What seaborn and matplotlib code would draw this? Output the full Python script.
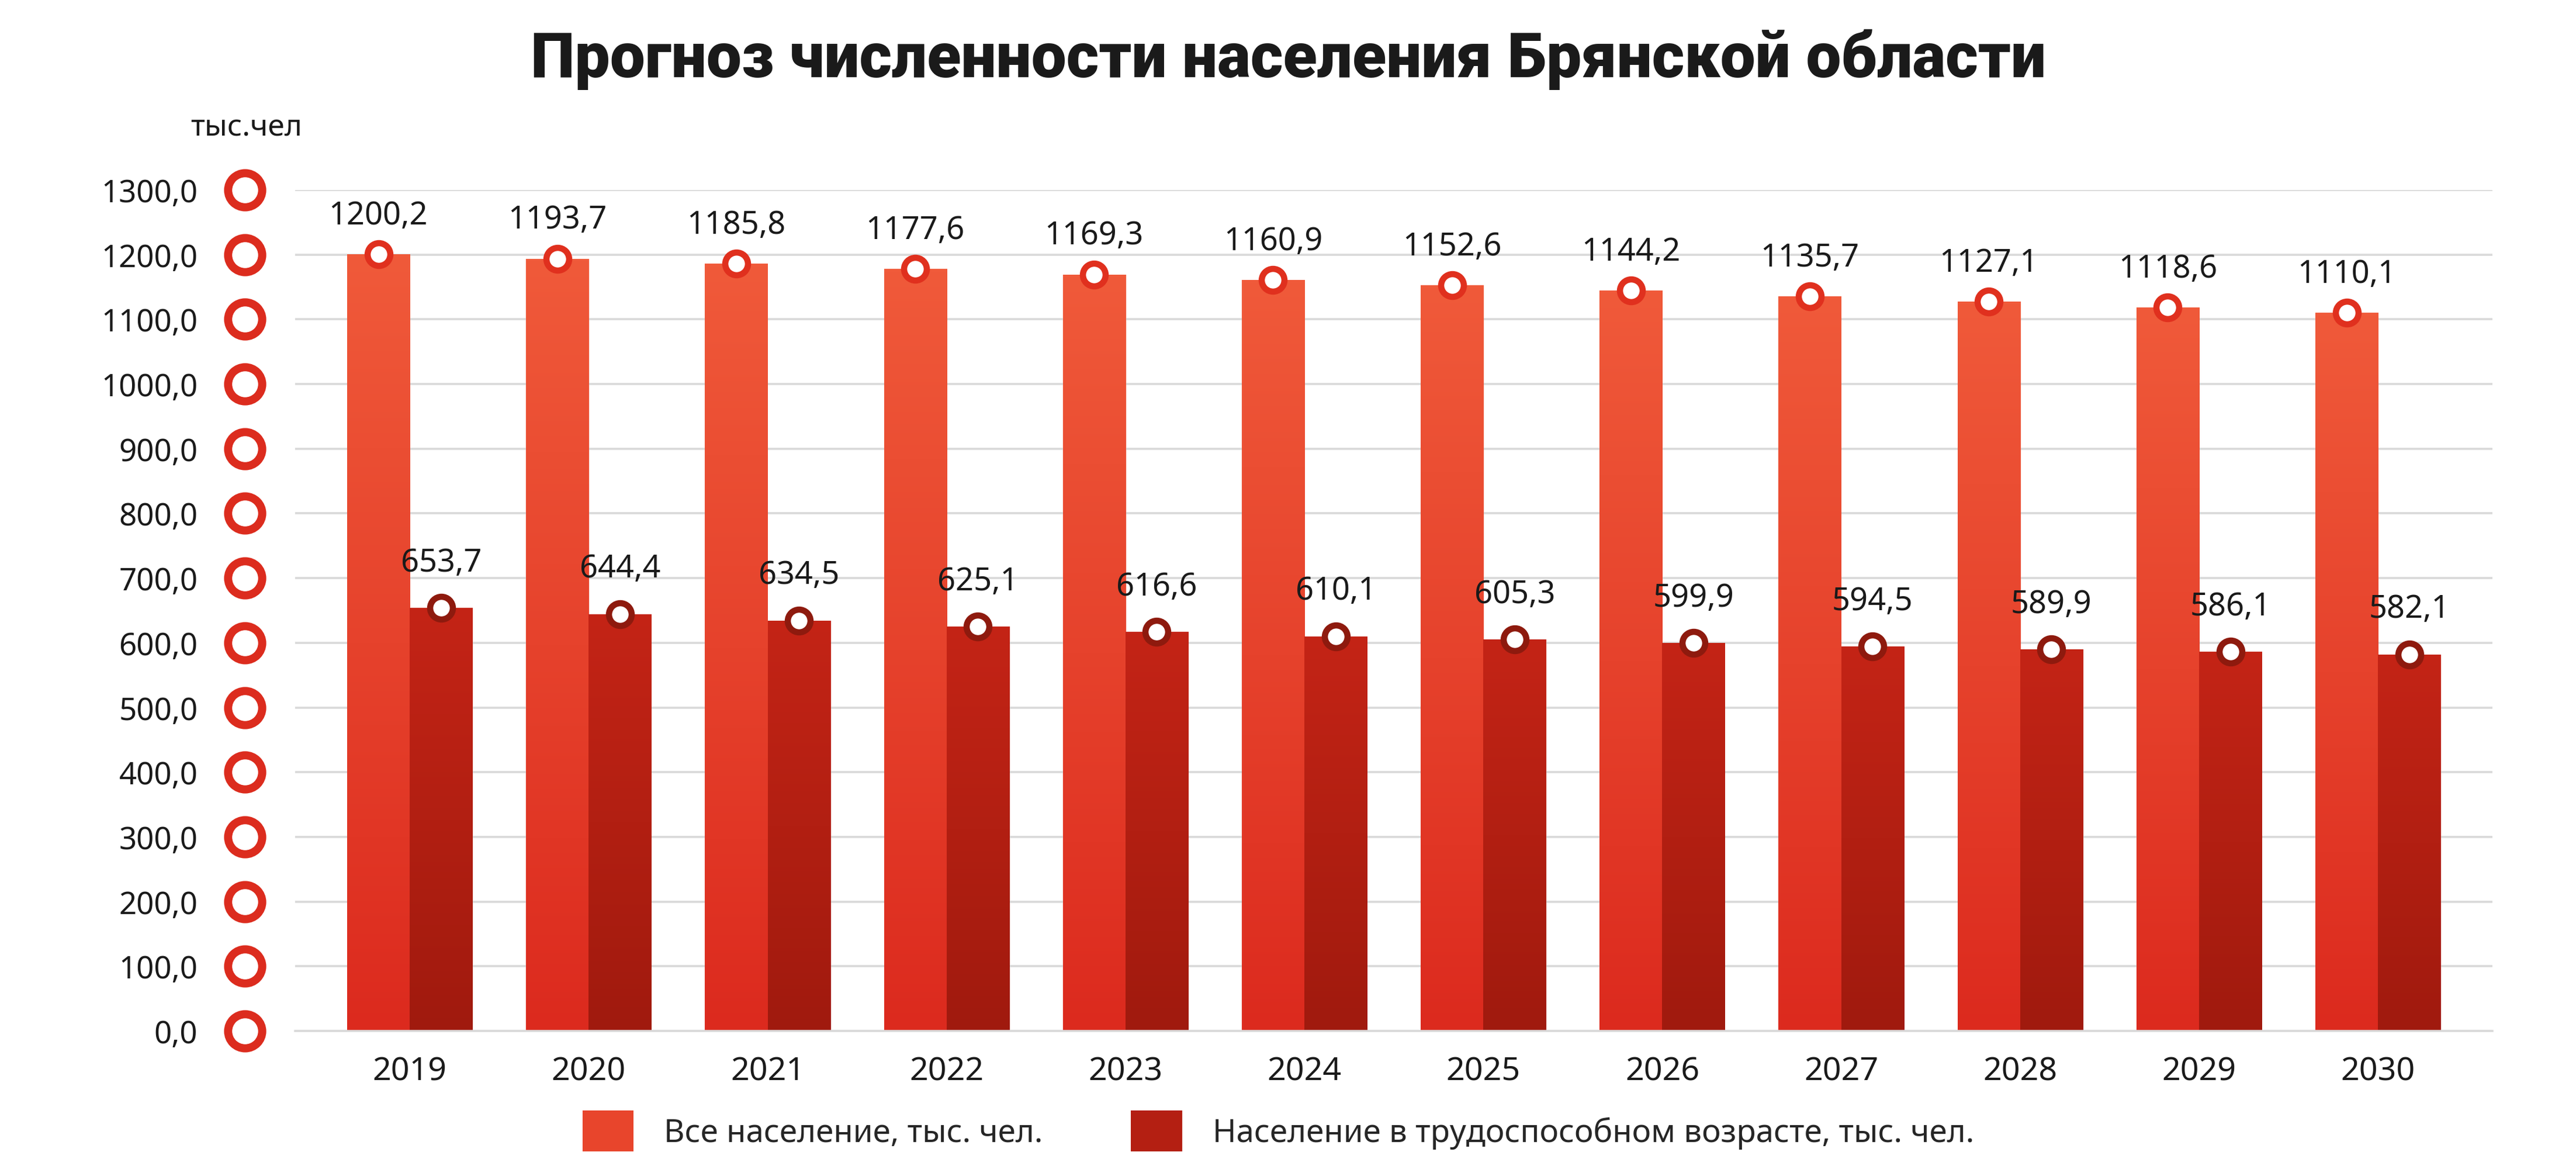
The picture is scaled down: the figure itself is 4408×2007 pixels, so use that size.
import numpy as np
import pandas as pd
import matplotlib
matplotlib.use('Agg')
import matplotlib.pyplot as plt
import matplotlib.transforms as mtransforms
from matplotlib.colors import LinearSegmentedColormap
import seaborn as sns

# Chart data
years = ['2019', '2020', '2021', '2022', '2023', '2024', '2025', '2026', '2027', '2028', '2029', '2030']
total_pop = [1200.2, 1193.7, 1185.8, 1177.6, 1169.3, 1160.9, 1152.6, 1144.2, 1135.7, 1127.1, 1118.6, 1110.1]
working_pop = [653.7, 644.4, 634.5, 625.1, 616.6, 610.1, 605.3, 599.9, 594.5, 589.9, 586.1, 582.1]
series_names = ['Все население, тыс. чел.', 'Население в трудоспособном возрасте, тыс. чел.']
y_ticks = list(range(0, 1301, 100))

title = 'Прогноз численности населения Брянской области'
unit_label = 'тыс.чел'

# colours: (top, bottom) of gradient, marker edge
grad = {series_names[0]: ('#f05a3a', '#dc2a1e'), series_names[1]: ('#c42416', '#a01a0e')}
ring_col = {series_names[0]: '#e0301e', series_names[1]: '#8e1a0e'}
solid = {series_names[0]: '#e8452c', series_names[1]: '#b41f12'}

df = pd.DataFrame({
    'year': years * 2,
    'value': total_pop + working_pop,
    'series': [series_names[0]] * len(years) + [series_names[1]] * len(years),
})

sns.set_style('white')
plt.rcParams['font.family'] = ['Noto Sans', 'DejaVu Sans']

fig = plt.figure(figsize=(22.04, 10.04), dpi=200)
ax = fig.add_axes([0.1146, 0.121, 0.853, 0.7167])

sns.barplot(data=df, x='year', y='value', hue='series', hue_order=series_names,
            palette=solid, width=0.7, saturation=1, ax=ax, legend=False, zorder=2)

ax.set_ylim(0, 1300)
ax.set_xlim(-0.64, len(years) - 1 + 0.64)

# gradient fill on bars
for container, name in zip(ax.containers, series_names):
    top, bot = grad[name]
    cmap = LinearSegmentedColormap.from_list(name, [bot, top])
    for patch in container.patches:
        x0, y0 = patch.get_x(), patch.get_y()
        w, h = patch.get_width(), patch.get_height()
        img = ax.imshow(np.linspace(0, 1, 256).reshape(-1, 1), cmap=cmap, origin='lower',
                        extent=[x0, x0 + w, y0, y0 + h], aspect='auto', zorder=2.5)
        img.set_clip_path(patch)
        patch.set_edgecolor('none')

ax.set_xlim(-0.64, len(years) - 1 + 0.64)
ax.set_ylim(0, 1300)

# ring markers + value labels
for container, name, vals, off in zip(ax.containers, series_names, [total_pop, working_pop], [24, 28]):
    for patch, v in zip(container.patches, vals):
        cx = patch.get_x() + patch.get_width() / 2
        ax.plot(cx, v, 'o', ms=14, mfc='white', mec=ring_col[name], mew=3.8, zorder=4, clip_on=False)
        ax.annotate(f'{v:.1f}'.replace('.', ','), (cx, v), xytext=(0, off), textcoords='offset points',
                    ha='center', va='center', fontsize=19.5, color='#1a1a1a', zorder=5)

# grid
ax.set_yticks(y_ticks)
ax.set_yticklabels([f'{t},0' for t in y_ticks])
ax.yaxis.grid(True, color='#d9d9d9', linewidth=1.3, zorder=0)
ax.set_axisbelow(True)
for s in ['left', 'right', 'top']:
    ax.spines[s].set_visible(False)
ax.spines['bottom'].set_color('#d9d9d9')
ax.spines['bottom'].set_linewidth(1.3)
ax.tick_params(axis='y', length=0, pad=60, labelsize=19, labelcolor='#1a1a1a')
ax.tick_params(axis='x', length=0, pad=15, labelsize=20, labelcolor='#1a1a1a')
ax.set_xlabel('')
ax.set_ylabel('')

# decorative rings on y axis
trans = mtransforms.blended_transform_factory(ax.transAxes, ax.transData)
ax.scatter([-0.0229] * len(y_ticks), y_ticks, s=21 ** 2, facecolor='white', edgecolor='#dc2c1e',
           linewidth=5, transform=trans, clip_on=False, zorder=5)

fig.text(0.5, 0.949, title, ha='center', va='center', fontsize=38.5, fontweight='heavy',
         family=['Roboto', 'DejaVu Sans'], color='#1a1a1a')
fig.text(0.0957, 0.891, unit_label, ha='center', va='center', fontsize=18.5, color='#1a1a1a')

handles = [plt.Rectangle((0, 0), 1, 1, facecolor=solid[n], edgecolor='none') for n in series_names]
fig.legend(handles, series_names, loc='center', bbox_to_anchor=(0.4962, 0.036), ncol=2, frameon=False,
           fontsize=19.7, handlelength=1.6, handleheight=1.6, handletextpad=0.95, columnspacing=2.75)

fig.savefig('out.png', dpi=200, facecolor='white')
